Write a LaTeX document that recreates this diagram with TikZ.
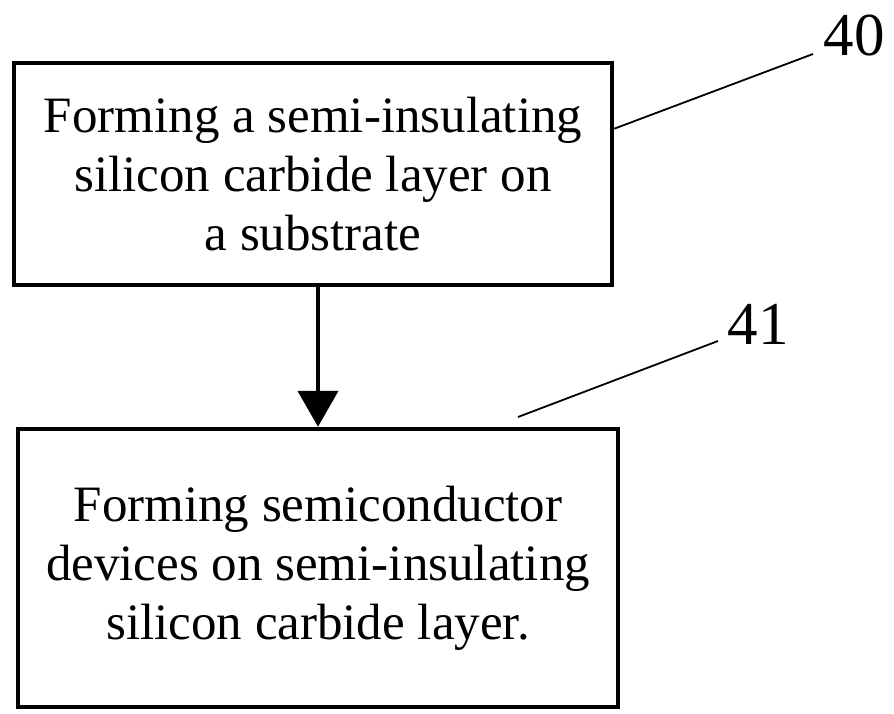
\documentclass[tikz,border=0pt]{standalone}
\usepackage{fontspec}
\setmainfont{Liberation Serif}
\usetikzlibrary{arrows.meta,calc}
\begin{document}
\begin{tikzpicture}[x=1pt,y=-1pt,
  stepbox/.style={draw=black,line width=4.5pt,align=center,inner sep=0pt,
    font=\fontsize{51}{59}\selectfont},
  leader/.style={line width=1.8pt},
  reflabel/.style={font=\fontsize{61}{61}\selectfont,inner sep=0pt}]
\useasboundingbox (0,0) rectangle (894,713);
\node[stepbox,minimum width=598pt,minimum height=222pt] (b1) at (313,174)
  {Forming a semi-insulating\\silicon carbide layer on\\a substrate};
\node[stepbox,minimum width=600pt,minimum height=278pt] (b2) at (318,568)
  {Forming semiconductor\\devices on semi-insulating\\silicon carbide layer.};
\draw[line width=4.5pt,-{Triangle[width=40pt,length=36pt]}] (b1.south -| b2.north) -- (b2.north);
\node[reflabel] (n40) at (854,36) {40};
\node[reflabel] (n41) at (758,324) {41};
\coordinate (e40) at (813,54);
\coordinate (s41) at (518,417);
\coordinate (e41) at (718,341);
\draw[leader] ($(b1.north east)!0.3!(b1.south east)$) -- (e40);
\draw[leader] (s41) -- (e41);
\end{tikzpicture}
\end{document}
